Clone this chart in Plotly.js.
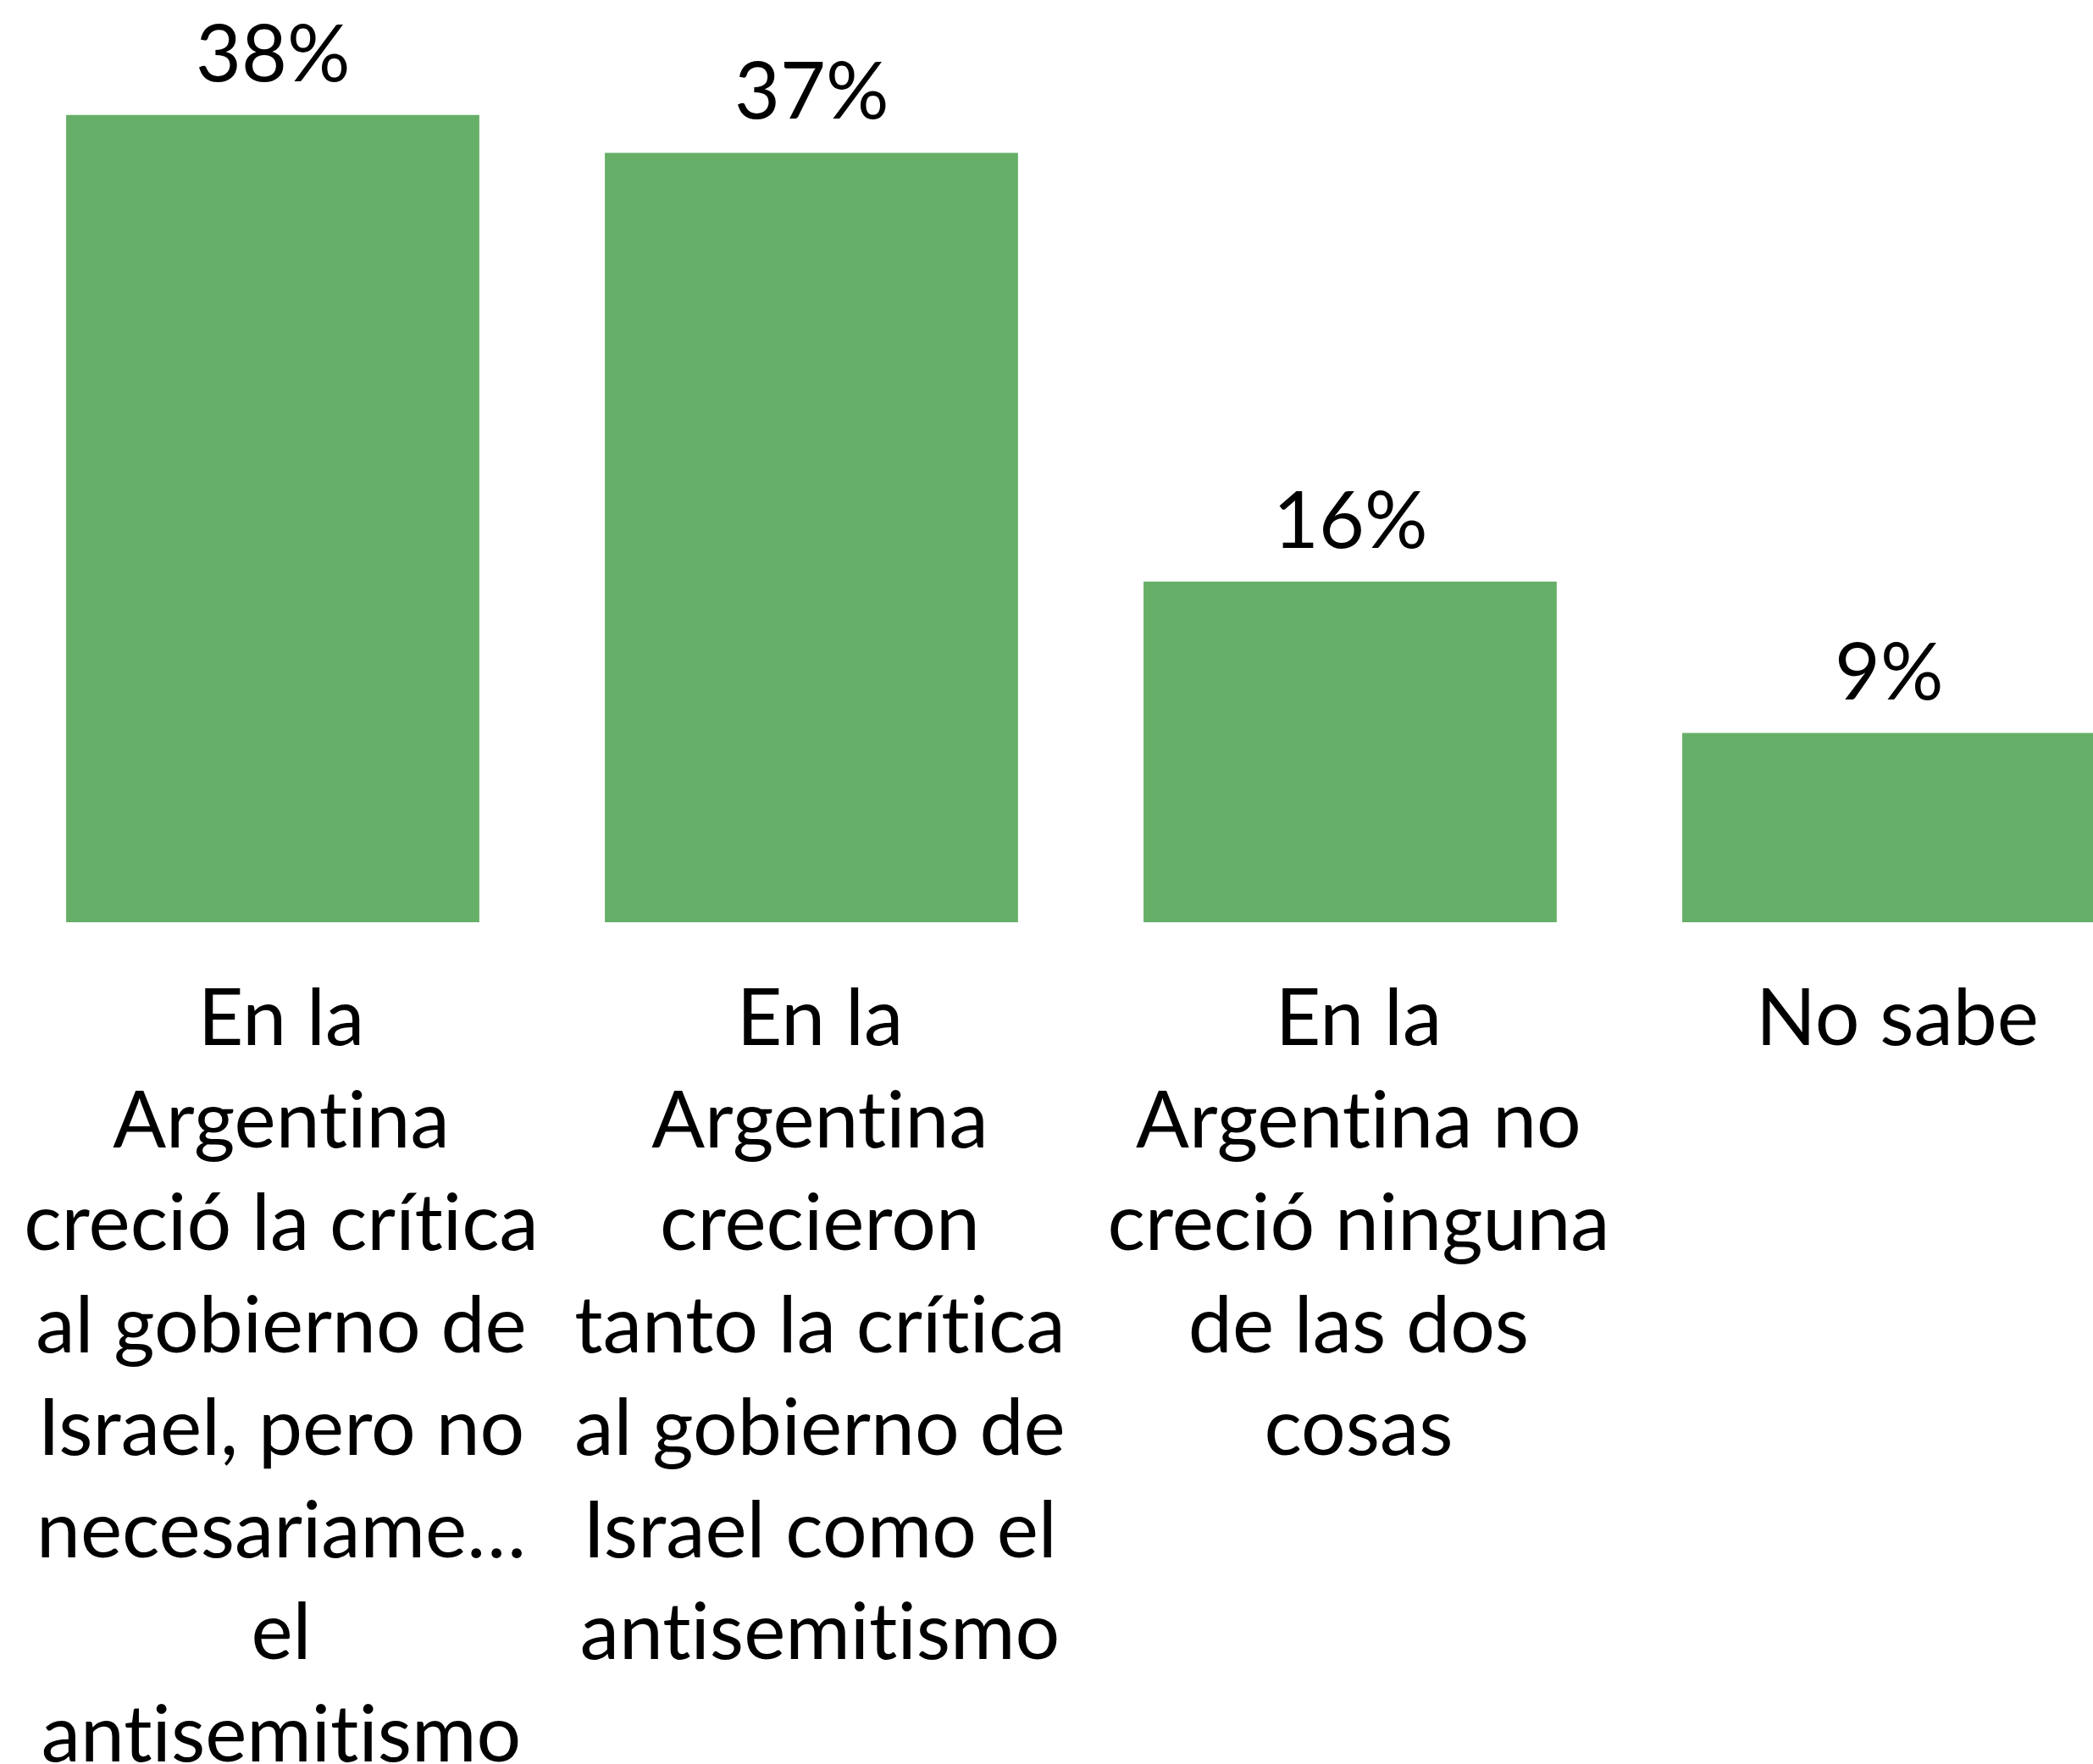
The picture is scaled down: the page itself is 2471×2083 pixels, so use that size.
<!DOCTYPE html>
<html>
<head>
<meta charset="utf-8">
<script src="https://cdn.plot.ly/plotly-3.0.1.min.js"></script>
<style>
html,body{margin:0;padding:0;background:#fff;overflow:hidden}
svg text{font-variant-ligatures:none !important;font-feature-settings:"liga" 0,"clig" 0 !important}
</style>
</head>
<body>
<div id="chart" style="width:2471px;height:2083px"></div>
<script>
const categories = ["c1", "c2", "c3", "c4"];
const values = [38.4, 36.6, 16.2, 9.0];
const tickLabels = [
  "En la<br>Argentina<br>creció la crítica<br>al gobierno de<br>Israel, pero no<br>necesariame…<br>el<br>antisemitismo",
  "En la<br>Argentina<br>crecieron<br>tanto la crítica<br>al gobierno de<br>Israel como el<br>antisemitismo",
  "En la<br>Argentina no<br>creció ninguna<br>de las dos<br>cosas",
  "No sabe"
];

const FONT = "Lato, Noto Sans, sans-serif";
const FSIZE = 93;

const trace = {
  type: "bar",
  x: categories,
  y: values,
  marker: {color: "#66AF68"},
  hoverinfo: "skip"
};

const annotations = categories.map((c, i) => ({
  x: c, y: values[i], xref: "x", yref: "y",
  text: values[i].toFixed(0) + "%",
  showarrow: false, xanchor: "center", yanchor: "bottom",
  yshift: 18,
  font: {family: FONT, size: FSIZE, color: "#000"}
}));

const layout = {
  width: 2471,
  height: 2083,
  margin: {l: 4, r: 0, t: 0, b: 994},
  paper_bgcolor: "#fff",
  plot_bgcolor: "#fff",
  bargap: 0.233,
  showlegend: false,
  annotations: annotations,
  xaxis: {
    type: "category",
    range: [-0.5, 3.379],
    tickvals: categories,
    ticktext: tickLabels,
    showgrid: false, zeroline: false, showline: false, ticks: "",
    tickangle: 0,
    ticklabelstandoff: 51,
    ticklabelshift: 10,
    tickfont: {family: FONT, size: FSIZE, color: "#000"}
  },
  yaxis: {
    range: [0, 43.87],
    visible: false,
    showgrid: false, zeroline: false
  }
};

Plotly.newPlot("chart", [trace], layout, {staticPlot: true});
</script>
</body>
</html>
